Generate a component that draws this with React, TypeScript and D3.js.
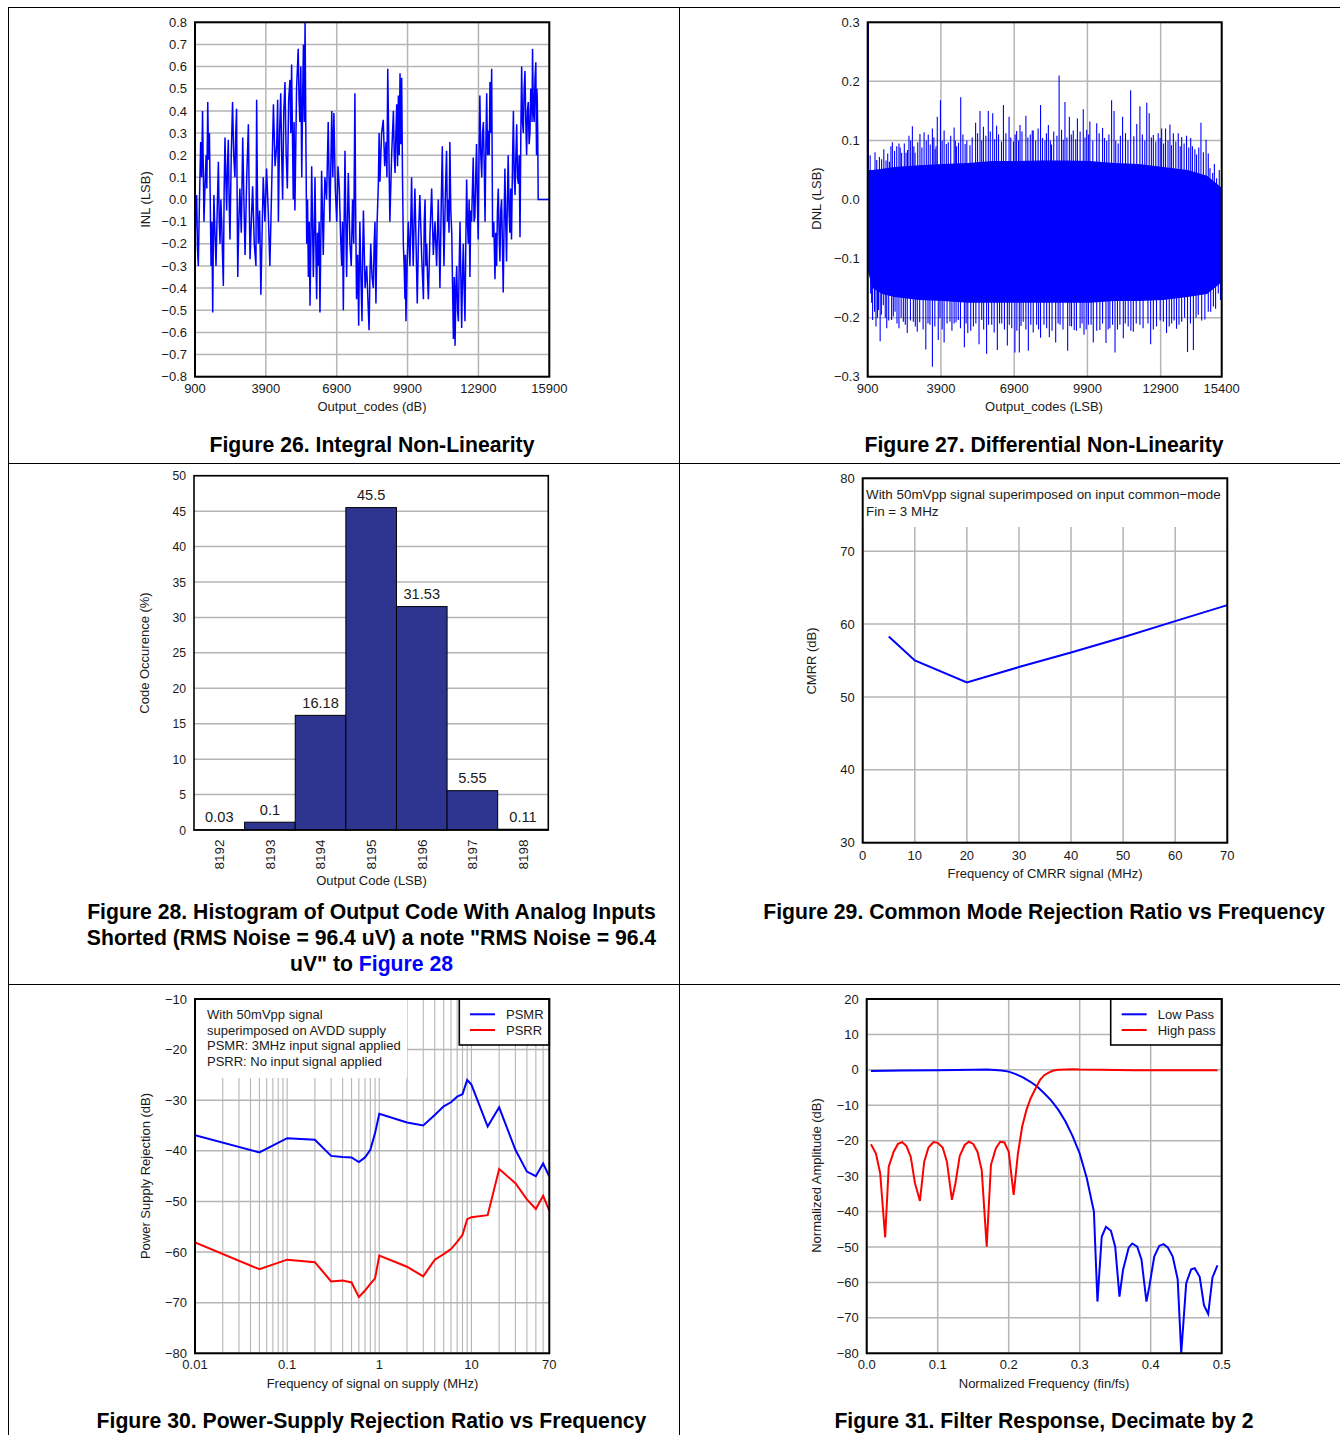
import React from "react";
import * as d3 from "d3";

const FONT = "'Liberation Sans', Arial, Helvetica, sans-serif";
const BLUE = "#0000ff";
const RED = "#ff0000";
const GRID = "#b5b5b5";
const BAR = "#2d3591";
const INK = "#1a1a1a";

const fmtMinus = (s: string) => s.replace("-", "\u2212");

// ---------- Figure 26 : INL ----------
const inlXTicks = [900, 3900, 6900, 9900, 12900, 15900];
const inlYTicks = [-0.8, -0.7, -0.6, -0.5, -0.4, -0.3, -0.2, -0.1, 0, 0.1, 0.2, 0.3, 0.4, 0.5, 0.6, 0.7, 0.8];
// [output code, INL (LSB)]
const inlPoints: [number, number][] = [
  [900, -0.2], [935, -0.05], [970, 0.02], [1005, -0.22], [1040, -0.3], [1090, 0.0], [1140, 0.26], [1180, 0.1],
  [1220, 0.4], [1250, 0.15], [1280, -0.1], [1320, 0.05], [1370, 0.2], [1400, 0.05], [1440, 0.44], [1475, 0.18],
  [1510, 0.3], [1545, 0.0], [1580, -0.3], [1615, -0.1], [1650, -0.51], [1675, -0.2], [1700, 0.02], [1745, -0.15],
  [1790, -0.3], [1840, -0.05], [1890, 0.17], [1925, -0.1], [1960, -0.2], [1995, 0.0], [2030, -0.1], [2065, -0.25],
  [2100, -0.39], [2135, 0.05], [2170, 0.28], [2205, 0.1], [2240, -0.05], [2275, 0.15], [2310, 0.27], [2345, 0.0],
  [2380, -0.18], [2435, 0.2], [2490, 0.44], [2540, 0.2], [2590, 0.1], [2625, 0.3], [2660, 0.41], [2685, 0.0],
  [2710, -0.35], [2755, -0.1], [2800, 0.05], [2860, -0.15], [2920, 0.28], [2970, 0.0], [3020, -0.25], [3090, 0.1],
  [3160, 0.34], [3195, 0.0], [3230, -0.27], [3285, -0.1], [3340, 0.06], [3410, -0.2], [3480, -0.3], [3495, 0.1],
  [3510, 0.45], [3545, 0.0], [3580, -0.2], [3635, -0.05], [3690, -0.43], [3740, -0.15], [3790, 0.1], [3860, -0.1],
  [3930, 0.14], [4000, -0.05], [4070, -0.3], [4145, 0.05], [4220, 0.43], [4290, 0.15], [4360, 0.25], [4400, 0.45],
  [4430, -0.1], [4480, 0.3], [4530, 0.48], [4570, 0.2], [4610, 0.0], [4660, 0.4], [4710, 0.53], [4760, 0.2],
  [4810, 0.05], [4865, 0.45], [4920, 0.54], [4955, 0.3], [4990, 0.61], [5025, 0.3], [5060, 0.0], [5095, 0.35],
  [5130, -0.05], [5200, 0.5], [5270, 0.68], [5305, 0.45], [5340, 0.35], [5380, 0.6], [5420, 0.1], [5455, 0.45],
  [5490, 0.7], [5525, 0.35], [5560, 0.8], [5580, 0.5], [5600, 0.2], [5630, -0.2], [5665, 0.0], [5700, -0.35],
  [5735, -0.1], [5770, -0.48], [5805, -0.2], [5840, 0.15], [5875, -0.1], [5910, -0.35], [5945, -0.15], [5980, 0.1],
  [6015, -0.2], [6050, -0.45], [6085, -0.15], [6120, -0.3], [6155, -0.1], [6190, -0.51], [6225, -0.2], [6260, 0.13],
  [6295, -0.05], [6330, -0.25], [6365, -0.05], [6400, 0.1], [6470, 0.0], [6540, 0.35], [6575, 0.1], [6610, -0.1],
  [6650, 0.15], [6690, 0.4], [6735, 0.1], [6780, 0.39], [6840, 0.05], [6900, -0.1], [6955, 0.15], [7010, 0.05],
  [7060, -0.15], [7110, -0.3], [7145, -0.1], [7180, -0.5], [7215, -0.1], [7250, 0.22], [7285, -0.1], [7320, -0.35],
  [7355, -0.1], [7390, 0.12], [7425, -0.05], [7460, -0.2], [7515, -0.3], [7570, 0.0], [7620, -0.2], [7670, 0.48],
  [7705, -0.1], [7740, -0.45], [7785, -0.25], [7830, -0.57], [7855, -0.3], [7880, -0.1], [7925, -0.35], [7970, -0.55],
  [8000, -0.25], [8030, -0.05], [8100, -0.4], [8170, -0.3], [8220, -0.45], [8270, -0.59], [8305, -0.35], [8340, -0.2],
  [8395, -0.35], [8450, -0.4], [8485, -0.2], [8520, -0.1], [8540, -0.3], [8560, -0.47], [8610, -0.1], [8660, 0.06],
  [8695, 0.3], [8730, 0.08], [8800, 0.3], [8870, 0.36], [8930, 0.15], [8990, 0.26], [9025, 0.1], [9060, 0.59],
  [9105, 0.25], [9150, -0.1], [9225, 0.2], [9300, 0.4], [9335, 0.2], [9370, 0.12], [9405, 0.3], [9440, 0.43],
  [9475, 0.15], [9510, 0.47], [9545, 0.2], [9580, 0.57], [9615, 0.25], [9650, 0.55], [9685, 0.1], [9720, -0.2],
  [9755, -0.3], [9790, -0.45], [9810, -0.25], [9830, -0.55], [9880, -0.3], [9930, -0.1], [10000, -0.3], [10070, 0.1],
  [10105, -0.15], [10140, -0.3], [10175, -0.1], [10210, 0.05], [10260, -0.2], [10310, -0.47], [10365, -0.15], [10420, 0.02],
  [10495, -0.25], [10570, -0.45], [10605, -0.1], [10640, 0.0], [10675, -0.3], [10710, -0.2], [10745, -0.35], [10780, -0.45],
  [10850, -0.15], [10920, 0.05], [10990, -0.25], [11060, -0.1], [11130, -0.3], [11200, 0.0], [11235, -0.2], [11270, -0.4],
  [11320, -0.05], [11370, 0.24], [11405, -0.05], [11440, -0.3], [11495, 0.0], [11550, 0.22], [11585, -0.1], [11620, 0.0],
  [11655, -0.15], [11690, 0.26], [11730, -0.05], [11770, -0.15], [11805, -0.4], [11840, -0.63], [11875, -0.35], [11910, -0.66],
  [11945, -0.4], [11980, -0.3], [12015, -0.5], [12050, -0.55], [12085, -0.3], [12120, -0.1], [12155, -0.35], [12190, -0.58],
  [12225, -0.35], [12260, -0.2], [12295, -0.4], [12330, -0.55], [12365, -0.2], [12400, 0.09], [12435, -0.1], [12470, -0.2],
  [12505, 0.0], [12540, -0.35], [12575, -0.05], [12610, -0.1], [12645, 0.05], [12680, 0.19], [12715, -0.1], [12750, -0.08],
  [12785, 0.1], [12820, 0.25], [12855, 0.0], [12890, -0.18], [12925, 0.2], [12960, 0.47], [13000, 0.2], [13040, 0.1],
  [13075, 0.3], [13110, 0.35], [13145, 0.15], [13180, -0.1], [13215, 0.25], [13250, 0.48], [13285, 0.2], [13320, 0.31],
  [13355, 0.2], [13390, 0.53], [13425, 0.3], [13460, 0.59], [13480, 0.2], [13500, -0.17], [13550, -0.1], [13600, -0.36],
  [13635, -0.15], [13670, -0.3], [13705, -0.05], [13740, 0.05], [13775, -0.15], [13810, -0.28], [13845, -0.05], [13880, 0.0],
  [13915, -0.2], [13950, -0.42], [13985, -0.1], [14020, 0.14], [14055, -0.1], [14090, -0.28], [14125, 0.0], [14160, 0.2],
  [14195, -0.05], [14230, -0.15], [14265, 0.05], [14300, -0.18], [14340, 0.15], [14380, 0.4], [14415, 0.1], [14450, 0.02],
  [14485, 0.2], [14520, 0.34], [14555, 0.1], [14590, 0.07], [14625, 0.2], [14660, -0.17], [14695, 0.3], [14730, 0.6],
  [14765, 0.35], [14800, 0.3], [14835, 0.5], [14870, 0.58], [14905, 0.35], [14940, 0.2], [14975, 0.4], [15010, 0.44],
  [15045, 0.25], [15080, 0.3], [15115, 0.5], [15150, 0.48], [15170, 0.35], [15190, 0.68], [15225, 0.4], [15260, 0.35],
  [15295, 0.55], [15330, 0.62], [15345, 0.35], [15360, 0.2], [15375, 0.5], [15390, 0.45], [15410, 0.3], [15430, 0.0],
  [15900, 0.0],
];

// ---------- Figure 27 : DNL ----------
const dnlXTicks = [900, 3900, 6900, 9900, 12900, 15400];
const dnlYTicks = [-0.3, -0.2, -0.1, 0, 0.1, 0.2, 0.3];
// dense core of the trace: [code, upper, lower]
const dnlBand: [number, number, number][] = [
  [900, 0.05, -0.12], [1100, 0.05, -0.15], [1500, 0.052, -0.16], [2000, 0.055, -0.165], [3000, 0.058, -0.17],
  [4000, 0.06, -0.172], [5000, 0.062, -0.175], [6000, 0.065, -0.175], [7000, 0.065, -0.175], [8000, 0.066, -0.175],
  [9000, 0.066, -0.175], [10000, 0.065, -0.175], [11000, 0.062, -0.172], [12000, 0.06, -0.172], [13000, 0.055, -0.17],
  [14000, 0.05, -0.165], [14800, 0.04, -0.16], [15400, 0.02, -0.14],
];
// excursions above the core: [code, DNL]
const dnlUp: [number, number][] = [
  [930, 0.3], [1000, 0.075], [1200, 0.08], [1270, 0.067], [1380, 0.072], [1470, 0.068], [1560, 0.085], [1650, 0.066],
  [1720, 0.078], [1790, 0.064], [1850, 0.09], [1910, 0.097], [2000, 0.082], [2090, 0.09], [2180, 0.095], [2230, 0.088],
  [2290, 0.079], [2400, 0.095], [2470, 0.079], [2530, 0.084], [2590, 0.108], [2660, 0.1], [2730, 0.124], [2790, 0.09],
  [2840, 0.079], [2950, 0.097], [3040, 0.111], [3120, 0.088], [3210, 0.114], [3300, 0.1], [3380, 0.11], [3460, 0.093],
  [3550, 0.12], [3610, 0.105], [3660, 0.085], [3700, 0.09], [3750, 0.14], [3880, 0.168], [3950, 0.1], [4030, 0.117],
  [4120, 0.094], [4200, 0.097], [4300, 0.108], [4440, 0.122], [4490, 0.1], [4540, 0.09], [4620, 0.096], [4710, 0.173],
  [4800, 0.11], [4890, 0.094], [4960, 0.1], [5090, 0.092], [5180, 0.105], [5320, 0.13], [5400, 0.112], [5500, 0.15],
  [5570, 0.1], [5640, 0.123], [5740, 0.108], [5840, 0.15], [5920, 0.115], [6020, 0.146], [6100, 0.102], [6180, 0.125],
  [6260, 0.11], [6380, 0.098], [6460, 0.16], [6560, 0.112], [6690, 0.14], [6760, 0.105], [6870, 0.098], [6940, 0.11],
  [7000, 0.116], [7080, 0.1], [7140, 0.126], [7220, 0.115], [7380, 0.142], [7460, 0.105], [7560, 0.11], [7640, 0.117],
  [7680, 0.117], [7780, 0.1], [7880, 0.12], [7980, 0.16], [8060, 0.104], [8160, 0.1], [8220, 0.112], [8300, 0.126],
  [8380, 0.1], [8430, 0.093], [8520, 0.115], [8650, 0.108], [8740, 0.21], [8840, 0.118], [8910, 0.101], [8980, 0.165],
  [9060, 0.105], [9160, 0.14], [9240, 0.11], [9320, 0.117], [9420, 0.102], [9490, 0.137], [9600, 0.115], [9730, 0.153],
  [9800, 0.105], [9870, 0.118], [9950, 0.11], [10000, 0.132], [10120, 0.1], [10280, 0.129], [10380, 0.112], [10520, 0.121],
  [10600, 0.104], [10690, 0.099], [10780, 0.11], [10890, 0.168], [10990, 0.15], [11060, 0.1], [11160, 0.095], [11250, 0.108],
  [11340, 0.14], [11460, 0.112], [11560, 0.1], [11670, 0.185], [11800, 0.107], [11920, 0.128], [12050, 0.158], [12150, 0.11],
  [12250, 0.1], [12330, 0.164], [12430, 0.146], [12520, 0.105], [12600, 0.109], [12700, 0.098], [12800, 0.112], [12880, 0.104],
  [12940, 0.12], [13020, 0.095], [13100, 0.12], [13200, 0.1], [13280, 0.127], [13340, 0.092], [13420, 0.112], [13520, 0.098],
  [13620, 0.112], [13700, 0.09], [13760, 0.106], [13860, 0.095], [13960, 0.108], [14050, 0.088], [14130, 0.104], [14200, 0.09],
  [14300, 0.085], [14370, 0.076], [14460, 0.088], [14550, 0.13], [14650, 0.08], [14760, 0.101], [14850, 0.078], [14920, 0.053],
  [15030, 0.045], [15100, 0.06], [15190, 0.036], [15300, 0.05],
];
// excursions below the core: [code, DNL]
const dnlDown: [number, number][] = [
  [1020, -0.159], [1060, -0.175], [1100, -0.204], [1180, -0.19], [1240, -0.215], [1300, -0.2], [1340, -0.187], [1410, -0.24],
  [1460, -0.195], [1540, -0.179], [1620, -0.2], [1680, -0.218], [1760, -0.205], [1880, -0.204], [1950, -0.198], [2020, -0.19],
  [2100, -0.21], [2180, -0.218], [2270, -0.2], [2360, -0.207], [2440, -0.212], [2520, -0.226], [2650, -0.205], [2770, -0.207],
  [2850, -0.215], [2930, -0.224], [3030, -0.208], [3170, -0.22], [3280, -0.254], [3370, -0.21], [3450, -0.212], [3550, -0.283],
  [3650, -0.215], [3790, -0.238], [3860, -0.201], [3950, -0.22], [4030, -0.242], [4150, -0.21], [4270, -0.207], [4350, -0.222],
  [4440, -0.21], [4520, -0.208], [4610, -0.204], [4700, -0.218], [4860, -0.25], [4930, -0.21], [5000, -0.226], [5120, -0.222],
  [5230, -0.215], [5330, -0.21], [5460, -0.245], [5570, -0.204], [5650, -0.22], [5770, -0.261], [5850, -0.212], [5980, -0.212],
  [6080, -0.225], [6210, -0.255], [6300, -0.21], [6390, -0.21], [6500, -0.22], [6620, -0.247], [6700, -0.212], [6800, -0.218],
  [6930, -0.259], [7010, -0.222], [7110, -0.259], [7180, -0.214], [7270, -0.207], [7380, -0.22], [7480, -0.256], [7580, -0.212],
  [7680, -0.225], [7820, -0.212], [7900, -0.22], [7980, -0.234], [8120, -0.212], [8230, -0.218], [8340, -0.233], [8450, -0.222],
  [8600, -0.242], [8700, -0.21], [8780, -0.212], [8900, -0.22], [9090, -0.256], [9180, -0.214], [9250, -0.215], [9360, -0.221],
  [9450, -0.222], [9600, -0.218], [9680, -0.21], [9760, -0.229], [9850, -0.22], [9940, -0.212], [10050, -0.212], [10140, -0.242],
  [10280, -0.222], [10410, -0.221], [10520, -0.21], [10660, -0.243], [10750, -0.22], [10820, -0.218], [10930, -0.212], [11030, -0.259],
  [11130, -0.22], [11230, -0.212], [11370, -0.235], [11450, -0.21], [11570, -0.215], [11680, -0.222], [11780, -0.224], [11900, -0.21],
  [12050, -0.212], [12180, -0.218], [12380, -0.21], [12490, -0.245], [12600, -0.22], [12730, -0.215], [12880, -0.205], [13010, -0.207],
  [13140, -0.226], [13250, -0.215], [13350, -0.21], [13450, -0.205], [13550, -0.219], [13650, -0.212], [13760, -0.207], [13880, -0.2],
  [14000, -0.258], [14120, -0.21], [14240, -0.255], [14350, -0.2], [14440, -0.195], [14580, -0.205], [14710, -0.203], [14850, -0.19],
  [14950, -0.19], [15060, -0.181], [15150, -0.185], [15260, -0.159], [15350, -0.17],
];

// ---------- Figure 28 : histogram ----------
const histCodes = ["8192", "8193", "8194", "8195", "8196", "8197", "8198"];
const histValues = [0.03, 1.1, 16.18, 45.5, 31.53, 5.55, 0.11];
const histLabels = ["0.03", "0.1", "16.18", "45.5", "31.53", "5.55", "0.11"];
const histYTicks = [0, 5, 10, 15, 20, 25, 30, 35, 40, 45, 50];

// ---------- Figure 29 : CMRR ----------
const cmrrFreq = [5, 10, 20, 30, 40, 50, 60, 70];
const cmrrDb = [58.3, 55.0, 52.0, 54.1, 56.1, 58.2, 60.4, 62.6];
const cmrrXTicks = [0, 10, 20, 30, 40, 50, 60, 70];
const cmrrYTicks = [30, 40, 50, 60, 70, 80];

// ---------- Figure 30 : PSRR ----------
const psFreq = [0.01, 0.05, 0.1, 0.2, 0.3, 0.4, 0.5, 0.6, 0.7, 0.8, 0.9, 1, 2, 3, 4, 5, 6, 7, 8, 9, 10, 15, 20, 30, 40, 50, 60, 70];
const psmr = [-36.9, -40.3, -37.5, -37.8, -41.0, -41.2, -41.3, -42.2, -41.3, -39.8, -36.5, -32.7, -34.4, -35.0, -32.9, -31.2, -30.4, -29.3, -28.8, -26.0, -26.9, -35.2, -31.4, -39.8, -44.1, -45.0, -42.5, -45.1];
const psrr = [-58.1, -63.4, -61.5, -62.0, -65.8, -65.6, -66.0, -68.9, -67.6, -66.3, -65.2, -60.7, -62.9, -64.8, -61.5, -60.4, -59.4, -58.0, -56.6, -53.5, -53.1, -52.7, -43.6, -46.4, -49.6, -51.5, -48.9, -51.8];
const psXTicks = [0.01, 0.1, 1, 10, 70];
const psXGrid = [0.02, 0.03, 0.04, 0.05, 0.06, 0.07, 0.08, 0.09, 0.1, 0.2, 0.3, 0.4, 0.5, 0.6, 0.7, 0.8, 0.9, 1, 2, 3, 4, 5, 6, 7, 8, 9, 10, 20, 30, 40, 50, 60];
const psYTicks = [-80, -70, -60, -50, -40, -30, -20, -10];

// ---------- Figure 31 : filter response ----------
const lowPass: [number, number][] = [
  [0.006, -0.3], [0.05, -0.2], [0.1, -0.1], [0.15, 0.0], [0.17, 0.1], [0.19, -0.2], [0.2, -0.5], [0.21, -1.2],
  [0.22, -2.1], [0.23, -3.3], [0.24, -4.7], [0.25, -6.6], [0.26, -8.7], [0.27, -11.3], [0.28, -14.6], [0.29, -18.7],
  [0.3, -23.6], [0.31, -30.6], [0.32, -40.0], [0.325, -65.4], [0.331, -47.1], [0.337, -44.3], [0.344, -45.4], [0.35, -49.9],
  [0.356, -64.0], [0.361, -56.5], [0.369, -50.2], [0.374, -49.0], [0.381, -49.9], [0.387, -53.5], [0.394, -65.4], [0.398, -61.2],
  [0.405, -52.7], [0.412, -49.7], [0.418, -49.2], [0.424, -50.1], [0.431, -52.7], [0.438, -59.1], [0.443, -80], [0.45, -60.2],
  [0.457, -56.3], [0.462, -56.0], [0.469, -58.4], [0.475, -66.4], [0.481, -68.9], [0.487, -58.6], [0.494, -55.2],
];
const highPass: [number, number][] = [
  [0.006, -21.0], [0.013, -23.6], [0.019, -29.2], [0.026, -47.3], [0.031, -27.3], [0.038, -23.1], [0.044, -20.9], [0.05, -20.4],
  [0.056, -21.5], [0.062, -24.5], [0.068, -32.0], [0.075, -37.0], [0.081, -25.9], [0.087, -21.9], [0.094, -20.4], [0.1, -20.6],
  [0.107, -21.9], [0.113, -25.9], [0.12, -36.7], [0.125, -32.0], [0.131, -24.3], [0.138, -21.2], [0.144, -20.3], [0.15, -20.9],
  [0.156, -23.1], [0.162, -28.3], [0.169, -49.9], [0.175, -26.8], [0.182, -22.1], [0.188, -20.3], [0.194, -20.5], [0.2, -23.1],
  [0.207, -35.3], [0.213, -23.6], [0.219, -16.0], [0.225, -11.3], [0.231, -8.0], [0.238, -5.2], [0.244, -2.9], [0.25, -1.5],
  [0.257, -0.7], [0.263, -0.2], [0.27, 0.0], [0.282, 0.1], [0.291, 0.2], [0.3, 0.1], [0.33, 0.0], [0.376, -0.1], [0.494, -0.1],
];
const filtXTicks = [0, 0.1, 0.2, 0.3, 0.4, 0.5];
const filtYTicks = [-80, -70, -60, -50, -40, -30, -20, -10, 0, 10, 20];

type Box = { left: number; right: number; top: number; bottom: number };

const Frame = ({ b, w = 2 }: { b: Box; w?: number }) => (
  <rect x={b.left} y={b.top} width={b.right - b.left} height={b.bottom - b.top} fill="none" stroke="#000" strokeWidth={w} />
);

const HGrid = ({ b, ys, x0, x1 }: { b: Box; ys: number[]; x0?: number; x1?: number }) => (
  <g stroke={GRID} strokeWidth={1.5}>
    {ys.map((v, i) => (
      <line key={i} x1={x0 ?? b.left} x2={x1 ?? b.right} y1={v} y2={v} />
    ))}
  </g>
);

const VGrid = ({ b, xs, y0, w = 1.5 }: { b: Box; xs: number[]; y0?: number; w?: number }) => (
  <g stroke={GRID} strokeWidth={w}>
    {xs.map((v, i) => (
      <line key={i} x1={v} x2={v} y1={y0 ?? b.top} y2={b.bottom} />
    ))}
  </g>
);

const YLabels = ({ b, ticks, y, fmt }: { b: Box; ticks: number[]; y: (v: number) => number; fmt: (v: number) => string }) => (
  <g textAnchor="end">
    {ticks.map((t) => (
      <text key={t} x={b.left - 8} y={y(t) + 4.6}>
        {fmt(t)}
      </text>
    ))}
  </g>
);

const XLabels = ({ ticks, x, base, fmt }: { ticks: number[]; x: (v: number) => number; base: number; fmt: (v: number) => string }) => (
  <g textAnchor="middle">
    {ticks.map((t) => (
      <text key={t} x={x(t)} y={base}>
        {fmt(t)}
      </text>
    ))}
  </g>
);

const YTitle = ({ x, y, text }: { x: number; y: number; text: string }) => (
  <text transform={`translate(${x},${y}) rotate(-90)`} textAnchor="middle">
    {text}
  </text>
);

const Caption = ({ x, y, children }: { x: number; y: number; children: React.ReactNode }) => (
  <text x={x} y={y} textAnchor="middle" fontWeight="bold" fontSize={21.2} fill="#000">
    {children}
  </text>
);

const Fig26 = () => {
  const b: Box = { left: 195, right: 549.3, top: 22.3, bottom: 376.7 };
  const x = d3.scaleLinear().domain([900, 15900]).range([b.left, b.right]);
  const y = d3.scaleLinear().domain([-0.8, 0.8]).range([b.bottom, b.top]);
  const path = d3.line<[number, number]>().x((d) => x(d[0])).y((d) => y(d[1]))(inlPoints) ?? "";
  return (
    <g>
      <clipPath id="clip26">
        <rect x={b.left} y={b.top} width={b.right - b.left} height={b.bottom - b.top} />
      </clipPath>
      <HGrid b={b} ys={inlYTicks.map(y)} />
      <VGrid b={b} xs={inlXTicks.map(x)} />
      <path d={path} fill="none" stroke={BLUE} strokeWidth={1.5} clipPath="url(#clip26)" />
      <Frame b={b} />
      <YLabels b={b} ticks={inlYTicks} y={y} fmt={(v) => fmtMinus(v.toFixed(1))} />
      <XLabels ticks={inlXTicks} x={x} base={393} fmt={(v) => String(v)} />
      <YTitle x={150} y={199.5} text="INL (LSB)" />
      <text x={372} y={411} textAnchor="middle">Output_codes (dB)</text>
      <Caption x={372} y={451.5}>Figure 26. Integral Non-Linearity</Caption>
    </g>
  );
};

const Fig27 = () => {
  const b: Box = { left: 867.7, right: 1221.7, top: 22.3, bottom: 376.7 };
  const x = d3.scaleLinear().domain([900, 15400]).range([b.left, b.right]);
  const y = d3.scaleLinear().domain([-0.3, 0.3]).range([b.bottom, b.top]);
  const area =
    d3
      .area<[number, number, number]>()
      .x((d) => x(d[0]))
      .y0((d) => y(d[2]))
      .y1((d) => y(d[1]))(dnlBand) ?? "";
  return (
    <g>
      <clipPath id="clip27">
        <rect x={b.left} y={b.top} width={b.right - b.left} height={b.bottom - b.top} />
      </clipPath>
      <HGrid b={b} ys={dnlYTicks.map(y)} />
      <VGrid b={b} xs={dnlXTicks.map(x)} />
      <g clipPath="url(#clip27)">
        <path d={area} fill={BLUE} />
        <g stroke={BLUE} strokeWidth={1.1}>
          {dnlUp.map(([c, v], i) => (
            <line key={"u" + i} x1={x(c)} x2={x(c)} y1={y(0)} y2={y(v)} />
          ))}
          {dnlDown.map(([c, v], i) => (
            <line key={"d" + i} x1={x(c)} x2={x(c)} y1={y(-0.1)} y2={y(v)} />
          ))}
        </g>
      </g>
      <Frame b={b} />
      <YLabels b={b} ticks={dnlYTicks} y={y} fmt={(v) => fmtMinus(v.toFixed(1))} />
      <XLabels ticks={dnlXTicks} x={x} base={393} fmt={(v) => String(v)} />
      <YTitle x={821} y={198.5} text="DNL (LSB)" />
      <text x={1044} y={411} textAnchor="middle">Output_codes (LSB)</text>
      <Caption x={1044} y={451.5}>Figure 27. Differential Non-Linearity</Caption>
    </g>
  );
};

const Fig28 = () => {
  const b: Box = { left: 194, right: 548.3, top: 475.7, bottom: 830 };
  const x = d3.scaleBand<string>().domain(histCodes).range([b.left, b.right]).padding(0);
  const y = d3.scaleLinear().domain([0, 50]).range([b.bottom, b.top]);
  return (
    <g>
      <HGrid b={b} ys={histYTicks.map(y)} />
      {histCodes.map((c, i) => (
        <rect
          key={c}
          x={x(c)!}
          y={y(histValues[i])}
          width={x.bandwidth()}
          height={b.bottom - y(histValues[i])}
          fill={BAR}
          stroke="#000"
          strokeWidth={1}
        />
      ))}
      {histCodes.map((c, i) => (
        <text key={"l" + c} x={x(c)! + x.bandwidth() / 2} y={y(histValues[i]) - 7.3} textAnchor="middle" fontSize={14.6}>
          {histLabels[i]}
        </text>
      ))}
      <Frame b={b} w={1.6} />
      <g fontSize={12.2}>
        <YLabels b={b} ticks={histYTicks} y={y} fmt={(v) => String(v)} />
      </g>
      {histCodes.map((c) => (
        <text key={"t" + c} transform={`translate(${x(c)! + x.bandwidth() / 2 + 4.8},839.5) rotate(-90)`} textAnchor="end" fontSize={13.5}>
          {c}
        </text>
      ))}
      <YTitle x={149} y={653} text="Code Occurence (%)" />
      <text x={371.5} y={884.5} textAnchor="middle">Output Code (LSB)</text>
      <Caption x={371.5} y={918.5}>Figure 28. Histogram of Output Code With Analog Inputs</Caption>
      <Caption x={371.5} y={944.5}>Shorted (RMS Noise = 96.4 uV) a note "RMS Noise = 96.4</Caption>
      <Caption x={371.5} y={971}>
        uV" to <tspan fill="#0000ff">Figure 28</tspan>
      </Caption>
    </g>
  );
};

const Fig29 = () => {
  const b: Box = { left: 862.7, right: 1227.3, top: 478.3, bottom: 842.7 };
  const x = d3.scaleLinear().domain([0, 70]).range([b.left, b.right]);
  const y = d3.scaleLinear().domain([30, 80]).range([b.bottom, b.top]);
  const path = d3.line<number>().x((d) => x(d)).y((_, i) => y(cmrrDb[i]))(cmrrFreq) ?? "";
  return (
    <g>
      <HGrid b={b} ys={cmrrYTicks.map(y)} />
      <VGrid b={b} xs={cmrrXTicks.map(x)} y0={527} />
      <path d={path} fill="none" stroke={BLUE} strokeWidth={2} />
      <g fontSize={13.4}>
        <text x={866} y={498.8}>With 50mVpp signal superimposed on input common{"\u2212"}mode</text>
        <text x={866} y={515.8}>Fin = 3 MHz</text>
      </g>
      <Frame b={b} />
      <YLabels b={b} ticks={cmrrYTicks} y={y} fmt={(v) => String(v)} />
      <XLabels ticks={cmrrXTicks} x={x} base={860} fmt={(v) => String(v)} />
      <YTitle x={816} y={661} text="CMRR (dB)" />
      <text x={1045} y={878} textAnchor="middle">Frequency of CMRR signal (MHz)</text>
      <Caption x={1044} y={918.5}>Figure 29. Common Mode Rejection Ratio vs Frequency</Caption>
    </g>
  );
};

const Fig30 = () => {
  const b: Box = { left: 195, right: 549.3, top: 999, bottom: 1353.3 };
  const x = d3.scaleLog().domain([0.01, 70]).range([b.left, b.right]);
  const y = d3.scaleLinear().domain([-80, -10]).range([b.bottom, b.top]);
  const line = (vals: number[]) => d3.line<number>().x((d) => x(d)).y((_, i) => y(vals[i]))(psFreq) ?? "";
  return (
    <g>
      <clipPath id="clip30">
        <rect x={b.left} y={b.top} width={b.right - b.left} height={b.bottom - b.top} />
      </clipPath>
      <HGrid b={b} ys={psYTicks.map(y)} />
      <VGrid b={b} xs={psXGrid.map(x)} w={1.1} />
      <rect x={b.left + 1} y={b.top + 1} width={406 - b.left} height={1077 - b.top} fill="#fff" />
      <g clipPath="url(#clip30)">
        <path d={line(psmr)} fill="none" stroke={BLUE} strokeWidth={2} />
        <path d={line(psrr)} fill="none" stroke={RED} strokeWidth={2} />
      </g>
      <text x={207} y={1019}>With 50mVpp signal</text>
      <text x={207} y={1035.4}>superimposed on AVDD supply</text>
      <text x={207} y={1050}>PSMR: 3MHz input signal applied</text>
      <text x={207} y={1066.4}>PSRR: No input signal applied</text>
      <rect x={459.3} y={b.top} width={b.right - 459.3} height={46} fill="#fff" stroke="#000" strokeWidth={1.6} />
      <line x1={470} x2={495} y1={1014.3} y2={1014.3} stroke={BLUE} strokeWidth={2} />
      <line x1={470} x2={495} y1={1030} y2={1030} stroke={RED} strokeWidth={2} />
      <text x={506} y={1019}>PSMR</text>
      <text x={506} y={1034.7}>PSRR</text>
      <Frame b={b} />
      <YLabels b={b} ticks={psYTicks} y={y} fmt={(v) => fmtMinus(String(v))} />
      <XLabels ticks={psXTicks} x={x} base={1369} fmt={(v) => String(v)} />
      <YTitle x={149.5} y={1176} text="Power Supply Rejection (dB)" />
      <text x={372.5} y={1388} textAnchor="middle">Frequency of signal on supply (MHz)</text>
      <Caption x={371.5} y={1427.5}>Figure 30. Power-Supply Rejection Ratio vs Frequency</Caption>
    </g>
  );
};

const Fig31 = () => {
  const b: Box = { left: 866.7, right: 1221.7, top: 999, bottom: 1353.3 };
  const x = d3.scaleLinear().domain([0, 0.5]).range([b.left, b.right]);
  const y = d3.scaleLinear().domain([-80, 20]).range([b.bottom, b.top]);
  const line = d3.line<[number, number]>().x((d) => x(d[0])).y((d) => y(d[1]));
  return (
    <g>
      <clipPath id="clip31">
        <rect x={b.left} y={b.top} width={b.right - b.left} height={b.bottom - b.top} />
      </clipPath>
      <HGrid b={b} ys={filtYTicks.map(y)} />
      <VGrid b={b} xs={filtXTicks.map(x)} />
      <g clipPath="url(#clip31)">
        <path d={line(lowPass) ?? ""} fill="none" stroke={BLUE} strokeWidth={2} />
        <path d={line(highPass) ?? ""} fill="none" stroke={RED} strokeWidth={2} />
      </g>
      <rect x={1110.7} y={b.top} width={b.right - 1110.7} height={46} fill="#fff" stroke="#000" strokeWidth={1.6} />
      <line x1={1121.7} x2={1146.7} y1={1014.3} y2={1014.3} stroke={BLUE} strokeWidth={2} />
      <line x1={1121.7} x2={1146.7} y1={1030} y2={1030} stroke={RED} strokeWidth={2} />
      <text x={1157.7} y={1019}>Low Pass</text>
      <text x={1157.7} y={1034.7}>High pass</text>
      <Frame b={b} />
      <YLabels b={b} ticks={filtYTicks} y={y} fmt={(v) => fmtMinus(String(v))} />
      <XLabels ticks={filtXTicks} x={x} base={1369} fmt={(v) => v.toFixed(1)} />
      <YTitle x={821} y={1175.5} text="Normalized Amplitude (dB)" />
      <text x={1044} y={1388} textAnchor="middle">Normalized Frequency (fin/fs)</text>
      <Caption x={1044} y={1427.5}>Figure 31. Filter Response, Decimate by 2</Caption>
    </g>
  );
};

export default function App() {
  return (
    <svg
      width={1340}
      height={1435}
      viewBox="0 0 1340 1435"
      style={{ position: "absolute", left: 0, top: 0, background: "#fff" }}
      fontFamily={FONT}
      fontSize={13}
      fill={INK}
    >
      <rect x={0} y={0} width={1340} height={1435} fill="#fff" />
      {/* table rules */}
      <g stroke="#000" strokeWidth={1}>
        <line x1={8} x2={1340} y1={7.5} y2={7.5} />
        <line x1={8} x2={1340} y1={463.5} y2={463.5} />
        <line x1={8} x2={1340} y1={984.5} y2={984.5} />
        <line x1={8.5} x2={8.5} y1={7} y2={1435} />
        <line x1={679.5} x2={679.5} y1={7} y2={1435} />
      </g>
      <Fig26 />
      <Fig27 />
      <Fig28 />
      <Fig29 />
      <Fig30 />
      <Fig31 />
    </svg>
  );
}
